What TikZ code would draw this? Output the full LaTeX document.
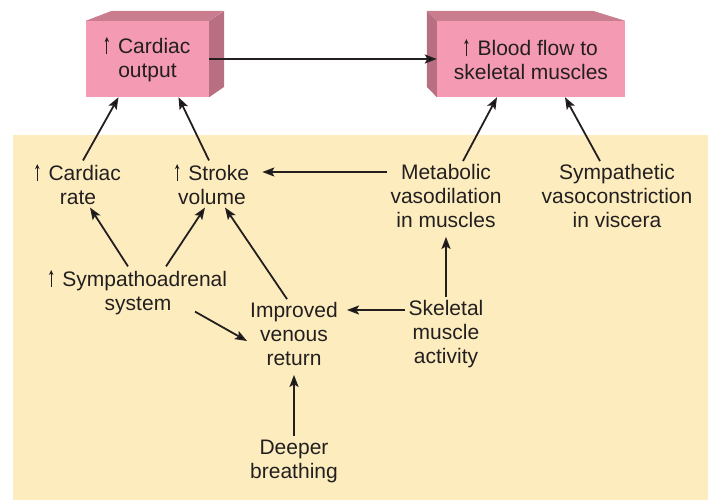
\documentclass[tikz,border=0pt]{standalone}
\usepackage{fontspec}
\setmainfont{Liberation Sans}
\usetikzlibrary{arrows.meta,calc,positioning}
\definecolor{boxpink}{RGB}{244,154,178}
\definecolor{boxtop}{RGB}{201,125,143}
\definecolor{boxside}{RGB}{184,111,129}
\definecolor{bgyellow}{RGB}{253,237,190}
\definecolor{ink}{RGB}{35,31,32}
\newcommand{\upar}{\tikz[baseline=0pt]\draw[ink, line width=0.9pt, -{Stealth[length=5pt,width=4.5pt]}] (0,-1pt) -- (0,16pt);\hspace{9pt}}

\begin{document}
\begin{tikzpicture}[
    x=1pt, y=-1pt,
    font=\fontsize{21}{24}\selectfont,
    >={Stealth[length=12pt,width=9pt,inset=2.5pt]},
    front/.style={rectangle, fill=boxpink, text=ink, align=center, inner sep=0pt, minimum height=76pt},
    txt/.style={align=center, text=ink, inner sep=3pt},
    flow/.style={->, draw=ink, line width=1.8pt}
  ]
    \useasboundingbox (0,0) rectangle (708,500);
    \fill[bgyellow] (13,135) rectangle (708,500);
    % output boxes
    \node[front, minimum width=123pt] (cout) at (147.5,59) {\upar Cardiac\\output};
    \fill[boxtop] (cout.north west) -- ++(26,-10) -- ++(112,0) -- (cout.north east) -- cycle;
    \fill[boxside] (cout.north east) -- ++(15,-10) -- ++(0,76) -- (cout.south east) -- cycle;
    \node[front, minimum width=188pt] (bflow) at (531,59) {\upar Blood flow to\\skeletal muscles};
    \fill[boxtop] (bflow.north west) -- ++(-10,-10) -- ++(166,0) -- (bflow.north east) -- cycle;
    \fill[boxside] (bflow.north west) -- ++(-10,-10) -- ++(0,76) -- (bflow.south west) -- cycle;
    % causes
    \node[txt] (rate) at (78,184) {\upar Cardiac\\rate};
    \node[txt] (stroke) at (212,184) {\upar Stroke\\volume};
    \node[txt] (met) at (446,196) {Metabolic\\vasodilation\\in muscles};
    \node[txt] (symp) at (617,196) {Sympathetic\\vasoconstriction\\in viscera};
    \node[txt] (sym) at (138,292) {\upar Sympathoadrenal\\system};
    \node[txt] (imp) at (294,334) {Improved\\venous\\return};
    \node[txt] (skel) at (446,334) {Skeletal\\muscle\\activity};
    \node[txt] (deep) at (294,461) {Deeper\\breathing};
    \coordinate (metl) at ([yshift=24pt]met.west);
    \coordinate (skell) at ([yshift=24pt]skel.west);
    % arrows
    \draw[flow] (cout.east) -- (bflow.west);
    \draw[flow] ([xshift=5pt]rate.north) -- ([xshift=-29pt]cout.south);
    \draw[flow] ([xshift=-3pt]stroke.north) -- ([xshift=31pt]cout.south);
    \draw[flow] ([xshift=17pt]met.north) -- ([xshift=-34pt]bflow.south);
    \draw[flow] ([xshift=-17pt]symp.north) -- ([xshift=34pt]bflow.south);
    \draw[flow, shorten >=10pt] (metl) -- (metl -| stroke.east);
    \draw[flow] ([xshift=-10pt]sym.north) -- ([xshift=12pt]rate.south);
    \draw[flow] ([xshift=28pt]sym.north) -- ([xshift=-7pt]stroke.south);
    \draw[flow] ([xshift=-7pt]imp.north) -- ([xshift=13pt]stroke.south);
    \draw[flow] ([xshift=57pt,yshift=6pt]sym.south) -- ([yshift=-7pt]imp.west);
    \draw[flow, shorten >=6pt] (skell) -- (skell -| imp.east);
    \draw[flow, shorten >=6pt] (skel.north) -- (skel.north |- met.south);
    \draw[flow, shorten >=6pt] (deep.north) -- (deep.north |- imp.south);
\end{tikzpicture}
\end{document}
